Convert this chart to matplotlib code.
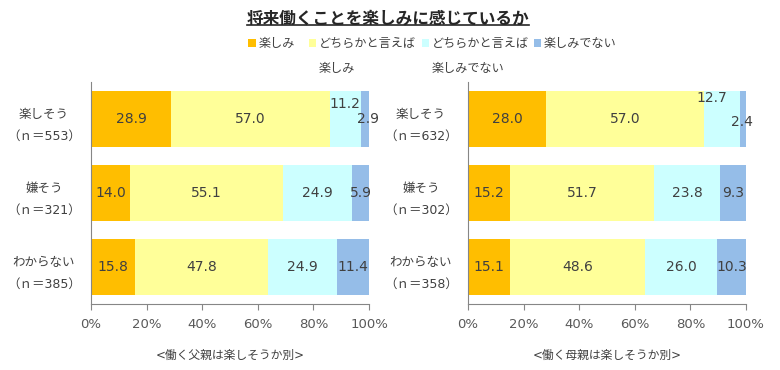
import matplotlib
matplotlib.use("Agg")
import matplotlib.pyplot as plt
from matplotlib.patches import Rectangle
from matplotlib.lines import Line2D
import numpy as np

plt.rcParams['font.family'] = ['DejaVu Sans', 'Noto Sans CJK JP']

title = "将来働くことを楽しみに感じているか"
series_names = ["楽しみ", "どちらかと言えば\n楽しみ", "どちらかと言えば\n楽しみでない", "楽しみでない"]
colors = ["#FFBE00", "#FFFF99", "#CCFFFF", "#95BDE8"]

categories = ["楽しそう", "嫌そう", "わからない"]
father_n = [553, 321, 385]
mother_n = [632, 302, 358]

father_vals = [
    [28.9, 14.0, 15.8],
    [57.0, 55.1, 47.8],
    [11.2, 24.9, 24.9],
    [2.9, 5.9, 11.4],
]
mother_vals = [
    [28.0, 15.2, 15.1],
    [57.0, 51.7, 48.6],
    [12.7, 23.8, 26.0],
    [2.4, 9.3, 10.3],
]
subtitles = ["<働く父親は楽しそうか別>", "<働く母親は楽しそうか別>"]
xticks = [0, 20, 40, 60, 80, 100]

# label offsets (points) for small segments: (panel, series, row) -> (dx, dy)
offsets = {(0, 2, 0): (0, 11), (0, 3, 0): (2, 0),
           (1, 2, 0): (-7, 15), (1, 3, 0): (-1, -2)}

W, H = 780, 370
fig = plt.figure(figsize=(7.8, 3.7), dpi=100)

axes_px = [(91, 369), (468, 746)]
ytop, ybot = 82, 304
gray = "#868686"
txtc = "#404040"

for p, (vals, ns) in enumerate([(father_vals, father_n), (mother_vals, mother_n)]):
    x0, x1 = axes_px[p]
    ax = fig.add_axes([x0 / W, 1 - ybot / H, (x1 - x0) / W, (ybot - ytop) / H])
    y = np.arange(len(categories))
    left = np.zeros(len(categories))
    for s, row in enumerate(vals):
        row = np.array(row)
        ax.barh(y, row, left=left, height=0.76, color=colors[s], edgecolor="none")
        for i, v in enumerate(row):
            dx, dy = offsets.get((p, s, i), (0, 0))
            ax.annotate(f"{v:.1f}", (left[i] + v / 2, y[i]), xytext=(dx, dy),
                        textcoords="offset points", ha="center", va="center",
                        fontsize=10, color=txtc)
        left += row
    ax.set_xlim(0, 100)
    ax.set_ylim(len(categories) - 0.5, -0.5)
    ax.set_xticks(xticks)
    ax.set_xticklabels([f"{t}%" for t in xticks], fontsize=9.5, color="#595959")
    ax.set_yticks(y)
    ax.set_yticklabels([f"{c}\n（ｎ＝{n}）" for c, n in zip(categories, ns)],
                       fontsize=9, color=txtc, ha="center", linespacing=1.9)
    ax.tick_params(axis="y", length=0, pad=34)
    ax.tick_params(axis="x", length=4, color=gray, pad=6)
    for sp in ["top", "right"]:
        ax.spines[sp].set_visible(False)
    for sp in ["left", "bottom"]:
        ax.spines[sp].set_color(gray)
    ax.set_facecolor("none")
    cx = (x0 + x1) / 2
    fig.text(cx / W, 1 - 355 / H, subtitles[p], ha="center", va="center",
             fontsize=8.5, color=txtc)

# title with underline
t = fig.text(388 / W, 1 - 18 / H, title, ha="center", va="center",
             fontsize=12, fontweight="bold", color="#262626")
fig.canvas.draw()
bb = t.get_window_extent(renderer=fig.canvas.get_renderer())
inv = fig.transFigure.inverted()
(bx0, by0), (bx1, by1) = inv.transform([(bb.x0, bb.y0), (bb.x1, bb.y1)])
fig.add_artist(Line2D([bx0, bx1], [by0 + 0.006, by0 + 0.006], transform=fig.transFigure,
                      color="#262626", lw=1.2))

# legend
leg_x = [252, 312, 425, 537]
line_y = [43, 68]
for name, c, lx in zip(series_names, colors, leg_x):
    sz = 7
    fig.add_artist(Rectangle(((lx - sz / 2) / W, 1 - (43 + sz / 2) / H), sz / W, sz / H,
                             transform=fig.transFigure, color=c, ec="none"))
    for k, line in enumerate(name.split("\n")):
        fig.text((lx + 7) / W, 1 - line_y[k] / H, line, ha="left", va="center",
                 fontsize=8.7, color=txtc)

fig.savefig("out.png", dpi=100, facecolor="white")
